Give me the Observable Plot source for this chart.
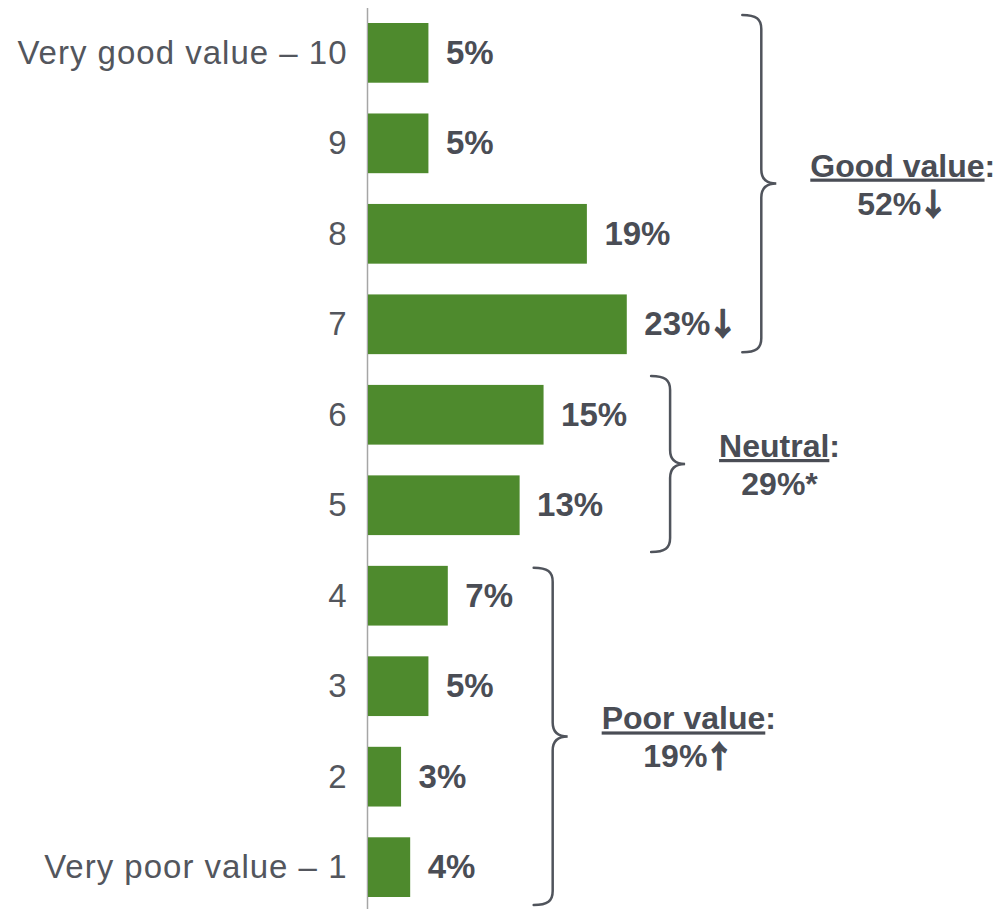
<!DOCTYPE html>
<html>
<head>
<meta charset="utf-8">
<script src="https://cdn.jsdelivr.net/npm/d3@7"></script>
<script src="https://cdn.jsdelivr.net/npm/@observablehq/plot@0.6"></script>
<style>
  html, body { margin: 0; padding: 0; background: #fff; }
  #chart svg { display: block; }
  #chart g[aria-label="y-axis tick label"] { letter-spacing: 1px; }
</style>
</head>
<body>
<div id="chart"></div>
<script>
// ---- data ----
const categories = ["Very good value – 10", "9", "8", "7", "6", "5", "4", "3", "2", "Very poor value – 1"];
const shares = [5.3, 5.3, 19.2, 22.7, 15.4, 13.3, 7.0, 5.3, 2.9, 3.7];
const shareLabels = ["5%", "5%", "19%", "23%", "15%", "13%", "7%", "5%", "3%", "4%"];
const shareMarks = ["", "", "", "↓", "", "", "", "", "", ""];
const groupNames = ["Good value", "Neutral", "Poor value"];
const groupTotals = ["52%", "29%*", "19%"];
const groupMarks = ["↓", "", "↑"];
const groupFirst = ["Very good value – 10", "6", "4"];
const groupLast = ["7", "5", "Very poor value – 1"];

// ---- layout (annotation placement, not data) ----
const bracketX = [34.5, 26.5, 16.2];             // x (in share units) of the brace spine
const bracketPad = [[-8, -2], [-9, 17], [2, 8]]; // px beyond band top / bottom
const FONT = "'Liberation Sans', Arial, sans-serif";
const ARROW_FONT = "'Noto Sans CJK JP', 'DejaVu Sans', sans-serif";
const TEXT_DARK = "#4a4d55";
const TEXT_CAT = "#53565d";
const BAR = "#4e8a2d";

const rows = categories.map((c, i) => ({cat: c, value: shares[i], label: shareLabels[i], mark: shareMarks[i]}));
const groups = groupNames.map((n, i) => ({name: n, total: groupTotals[i], mark: groupMarks[i], first: groupFirst[i], last: groupLast[i], bx: bracketX[i], pad: bracketPad[i]}));

const measure = (() => {
  const ctx = document.createElement("canvas").getContext("2d");
  return (txt, font) => { ctx.font = font; return ctx.measureText(txt).width; };
})();

function bracketsMark(index, scales, values, dimensions) {
  const y = scales.y, x = scales.x;
  const bw = typeof y.bandwidth === "function" ? y.bandwidth() : scales.scales.y.bandwidth;
  const g = d3.create("svg:g");
  for (const grp of groups) {
    const y0 = y(grp.first) + grp.pad[0];
    const y1 = y(grp.last) + bw + grp.pad[1];
    const ym = (y0 + y1) / 2;
    const xv = x(grp.bx);
    const tip = xv + 15, arm = xv - 19, r = 14;
    const p = d3.path();
    p.moveTo(arm, y0);
    p.bezierCurveTo(xv - 5, y0, xv, y0 + 4, xv, y0 + r);
    p.lineTo(xv, ym - r);
    p.bezierCurveTo(xv, ym - 4, xv + 6, ym, tip, ym);
    p.bezierCurveTo(xv + 6, ym, xv, ym + 4, xv, ym + r);
    p.lineTo(xv, y1 - r);
    p.bezierCurveTo(xv, y1 - 4, xv - 5, y1, arm, y1);
    g.append("path").attr("d", p.toString())
      .attr("fill", "none").attr("stroke", "#50545c").attr("stroke-width", 2.5)
      .attr("stroke-linecap", "round");
    const font = `bold 32px ${FONT}`;
    const w = measure(grp.name + ":", font);
    const tx = tip + 34;
    const t1 = g.append("text").attr("x", tx).attr("y", ym - 7)
      .attr("font-family", FONT).attr("font-size", 32).attr("font-weight", "bold")
      .attr("fill", TEXT_DARK).attr("text-anchor", "start");
    t1.append("tspan").attr("text-decoration", "underline").text(grp.name);
    t1.append("tspan").text(":");
    const t2 = g.append("text").attr("x", tx + w / 2).attr("y", ym + 31)
      .attr("font-family", FONT).attr("font-size", 32).attr("font-weight", "bold")
      .attr("fill", TEXT_DARK).attr("text-anchor", "middle");
    t2.append("tspan").text(grp.total);
    if (grp.mark) t2.append("tspan").attr("font-family", ARROW_FONT).attr("font-size", 30)
      .attr("dx", -3).attr("stroke", TEXT_DARK).attr("stroke-width", 1.3).text(grp.mark);
  }
  return g.node();
}

const LABEL_FONT = `bold 33px ${FONT}`;
const arrowMarks = rows.filter(d => d.mark).map(d =>
  Plot.text([d], {x: "value", y: "cat", text: "mark", dx: 14 + measure(d.label, LABEL_FONT),
    textAnchor: "start", fontWeight: "bold", fontSize: 31, fontFamily: ARROW_FONT,
    fill: TEXT_DARK, stroke: TEXT_DARK, strokeWidth: 1.3}));

const chart = Plot.plot({
  width: 997,
  height: 909,
  marginLeft: 368,
  marginRight: 0,
  marginTop: 8,
  marginBottom: 0,
  style: {fontFamily: FONT, background: "#fff"},
  x: {domain: [0, 50], range: [368, 938], axis: null},
  y: {domain: categories, range: [23, 897], paddingInner: 0.34, paddingOuter: 0, round: false, label: null},
  marks: [
    Plot.ruleX([0], {stroke: "#a6a6a6", strokeWidth: 1.5, dx: -1}),
    Plot.barX(rows, {x: "value", y: "cat", fill: BAR}),
    Plot.axisY({tickSize: 0, tickPadding: 21, fontSize: 33, color: TEXT_CAT, label: null}),
    Plot.text(rows, {x: "value", y: "cat", text: "label", dx: 17, textAnchor: "start",
      fontWeight: "bold", fontSize: 33, fill: TEXT_DARK}),
    ...arrowMarks,
    bracketsMark
  ]
});
document.getElementById("chart").appendChild(chart);
</script>
</body>
</html>
